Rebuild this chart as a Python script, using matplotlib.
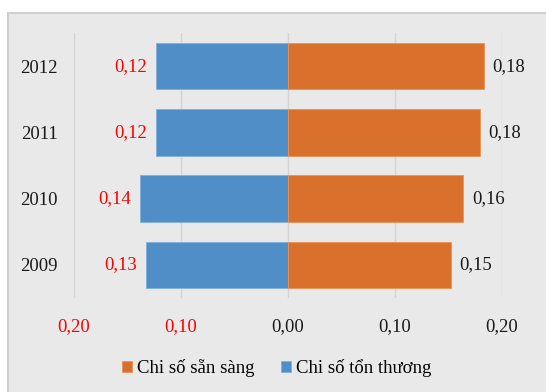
import matplotlib
matplotlib.use("Agg")
import matplotlib.pyplot as plt
from matplotlib.patches import Rectangle

years = ["2009", "2010", "2011", "2012"]
ton_thuong = [0.133, 0.138, 0.123, 0.123]   # Chỉ số tổn thương (drawn to the left)
san_sang = [0.152, 0.164, 0.179, 0.183]     # Chỉ số sẵn sàng (drawn to the right)
xtick_vals = [-0.2, -0.1, 0.0, 0.1, 0.2]
xtick_labels = ["0,20", "0,10", "0,00", "0,10", "0,20"]
xtick_colors = ["#ff0000", "#ff0000", "#1a1a1a", "#1a1a1a", "#1a1a1a"]

BLUE = "#4f8ec6"
ORANGE = "#d9712d"
BG = "#e9e9e9"
FONT = "Liberation Serif"
FS = 13.5

W, H = 546, 392
fig = plt.figure(figsize=(W / 100, H / 100), dpi=100)
fig.patch.set_facecolor("white")

# chart area panel with a thin border
fig.patches.append(Rectangle((8 / W, -0.2), 1.2, (H - 13) / H + 0.2,
                             transform=fig.transFigure, facecolor=BG,
                             edgecolor="#cfcfcf", linewidth=1.5, zorder=-5))

ax = fig.add_axes([74 / W, (H - 298) / H, 428 / W, 265 / H])
ax.set_facecolor("none")
ax.set_zorder(2)

y = list(range(len(years)))
neg = [-v for v in ton_thuong]
ax.barh(y, neg, height=0.70, color=BLUE, edgecolor="#7fb0dc", linewidth=0.6,
        zorder=3, label="Chi số tổn thương")
ax.barh(y, san_sang, height=0.70, color=ORANGE, edgecolor="#e8935a", linewidth=0.6,
        zorder=3, label="Chi số sẵn sàng")

for yi, v in zip(y, ton_thuong):
    ax.annotate(f"{v:.2f}".replace(".", ","), xy=(-v, yi), xytext=(-6.5, 0),
                textcoords="offset points", ha="right", va="center",
                color="#ff0000", fontsize=FS, family=FONT)
for yi, v in zip(y, san_sang):
    ax.annotate(f"{v:.2f}".replace(".", ","), xy=(v, yi), xytext=(6, 0),
                textcoords="offset points", ha="left", va="center",
                color="#1a1a1a", fontsize=FS, family=FONT, annotation_clip=False)

ax.set_xlim(-0.2, 0.2)
ax.set_ylim(-0.5, len(years) - 0.5)
ax.set_xticks(xtick_vals)
ax.set_xticklabels(xtick_labels, fontsize=FS, family=FONT)
for lbl, c in zip(ax.get_xticklabels(), xtick_colors):
    lbl.set_color(c)
ax.set_yticks(y)
ax.set_yticklabels(years, fontsize=FS, family=FONT, color="#1a1a1a")
ax.tick_params(axis="both", length=0)
ax.tick_params(axis="x", pad=14.5)
ax.tick_params(axis="y", pad=11.5)
ax.xaxis.grid(True, color="#d4d4d4", linewidth=1.0, zorder=0)
ax.yaxis.grid(False)
ax.set_axisbelow(True)
for s in ax.spines.values():
    s.set_visible(False)

handles, labels = ax.get_legend_handles_labels()
fig.legend(handles[::-1], labels[::-1], loc="center",
           bbox_to_anchor=(276.5 / W, (H - 368) / H), ncol=2, frameon=False,
           prop={"family": FONT, "size": FS}, handlelength=0.55, handleheight=0.55,
           handletextpad=0.25, columnspacing=1.4)

fig.savefig("out.png", dpi=100)
